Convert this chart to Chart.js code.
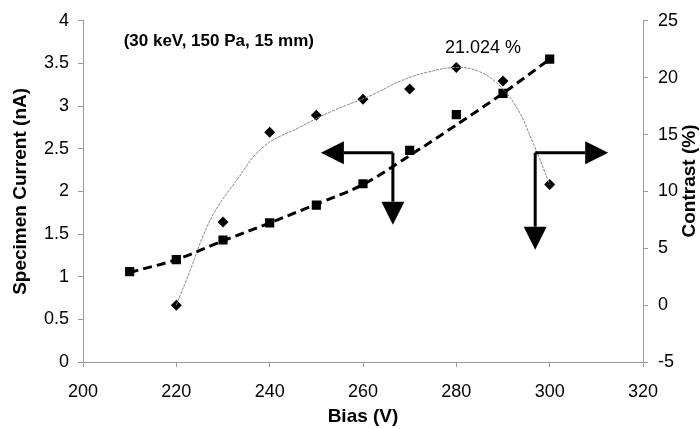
<!DOCTYPE html>
<html>
<head>
<meta charset="utf-8">
<script src="https://cdn.jsdelivr.net/npm/chart.js@4"></script>
<style>
  html, body { margin: 0; padding: 0; background: #fff; }
  #wrap { width: 700px; height: 429px; }
</style>
</head>
<body>
<div id="wrap"><canvas id="chart" width="700" height="429"></canvas></div>
<script>
const FONT = "'Liberation Sans', Arial, sans-serif";

// measured points
const biasCurrent = [210, 220, 230, 240, 250, 260, 270, 280, 290, 300];
const currentNA = [1.06, 1.2, 1.43, 1.63, 1.84, 2.09, 2.48, 2.9, 3.15, 3.55];
const biasContrast = [220, 230, 240, 250, 260, 270, 280, 290, 300];
const contrastPct = [0, 7.3, 15.2, 16.7, 18.1, 19.0, 20.9, 19.7, 10.6];

// fitted curves
const currentFit = [1.05, 1.2, 1.42, 1.63, 1.85, 2.08, 2.42, 2.78, 3.15, 3.55];
const contrastFitBias = [220, 222.9, 225.8, 228.5, 232.6, 238.6, 246.5,
  253.6, 261.5, 268, 274, 280, 284.5, 288.6, 292.9, 296.5, 300];
const contrastFit = [0, 2.98, 6.15, 8.4, 10.8, 13.9, 15.66,
  17.1, 18.4, 19.7, 20.5, 20.9, 20.6, 19.55, 17.4, 14.2, 10.6];

const xTicks = [200, 220, 240, 260, 280, 300, 320];
const currentTicks = [0, 0.5, 1, 1.5, 2, 2.5, 3, 3.5, 4];
const contrastTicks = [-5, 0, 5, 10, 15, 20, 25];

const pairs = (xs, ys) => xs.map((x, i) => ({ x: x, y: ys[i] }));
const setTicks = (list) => (scale) => { scale.ticks = list.map(v => ({ value: v })); };

const annotations = {
  id: "annotations",
  afterDatasetsDraw(chart) {
    const { ctx, scales } = chart;
    const x = scales.x, y = scales.y;
    ctx.save();
    ctx.fillStyle = "#000";
    ctx.strokeStyle = "#000";
    ctx.textAlign = "center";
    ctx.textBaseline = "middle";

    ctx.font = "bold 17px " + FONT;
    ctx.fillText("(30 keV, 150 Pa, 15 mm)", x.getPixelForValue(229.1), y.getPixelForValue(3.765));
    ctx.font = "18px " + FONT;
    ctx.fillText("21.024 %", x.getPixelForValue(285.7), y.getPixelForValue(3.675));

    function arrow(cx, cy, dx, dy, len) {
      const tx = cx + dx * len, ty = cy + dy * len;
      const head = 23, half = 11.5;
      const bx = tx - dx * head, by = ty - dy * head;
      ctx.lineWidth = 3;
      ctx.beginPath();
      ctx.moveTo(cx, cy);
      ctx.lineTo(bx, by);
      ctx.stroke();
      ctx.beginPath();
      ctx.moveTo(tx, ty);
      ctx.lineTo(bx - dy * half, by + dx * half);
      ctx.lineTo(bx + dy * half, by - dx * half);
      ctx.closePath();
      ctx.fill();
    }
    const c1x = x.getPixelForValue(266.4), c1y = y.getPixelForValue(2.454);
    arrow(c1x, c1y, -1, 0, 72);
    arrow(c1x, c1y, 0, 1, 72);
    const c2x = x.getPixelForValue(296.9), c2y = y.getPixelForValue(2.454);
    arrow(c2x, c2y, 1, 0, 73);
    arrow(c2x, c2y, 0, 1, 97);

    // right axis title reads bottom to top
    ctx.font = "bold 19px " + FONT;
    ctx.translate(690, 181);
    ctx.rotate(-Math.PI / 2);
    ctx.fillText("Contrast (%)", 0, 0);
    ctx.restore();
  }
};

new Chart(document.getElementById("chart"), {
  type: "scatter",
  data: {
    datasets: [
      {
        label: "Current fit",
        data: pairs(biasCurrent, currentFit),
        yAxisID: "y",
        showLine: true,
        borderColor: "#000",
        borderWidth: 3,
        borderDash: [9, 5],
        pointRadius: 0,
        tension: 0.3,
      },
      {
        label: "Contrast fit",
        data: pairs(contrastFitBias, contrastFit),
        yAxisID: "y1",
        showLine: true,
        borderColor: "#888",
        borderWidth: 1,
        borderDash: [3, 1],
        pointRadius: 0,
        tension: 0.4,
      },
      {
        label: "Specimen current",
        data: pairs(biasCurrent, currentNA),
        yAxisID: "y",
        pointStyle: "rect",
        pointRadius: 6.5,
        backgroundColor: "#000",
        borderColor: "#000",
        borderWidth: 0,
      },
      {
        label: "Contrast",
        data: pairs(biasContrast, contrastPct),
        yAxisID: "y1",
        pointStyle: "rectRot",
        pointRadius: 5.5,
        backgroundColor: "#000",
        borderColor: "#000",
        borderWidth: 0,
      },
    ],
  },
  options: {
    responsive: false,
    animation: false,
    layout: { padding: { top: 15, left: 0, right: 0, bottom: 0 } },
    plugins: {
      legend: { display: false },
      tooltip: { enabled: false },
    },
    scales: {
      x: {
        type: "linear",
        min: 200,
        max: 320,
        afterBuildTicks: setTicks(xTicks),
        afterFit: (s) => { s.height = 67; },
        border: { display: true, color: "#999", width: 1 },
        grid: { drawOnChartArea: false, drawTicks: true, tickLength: 5, color: "#999" },
        ticks: { color: "#000", padding: 14, font: { family: FONT, size: 18 } },
        title: {
          display: true,
          text: "Bias (V)",
          color: "#000",
          padding: { top: 0, bottom: 1 },
          font: { family: FONT, size: 19, weight: "bold" },
        },
      },
      y: {
        position: "left",
        min: 0,
        max: 4,
        afterBuildTicks: setTicks(currentTicks),
        afterFit: (s) => { s.width = 83; },
        border: { display: true, color: "#999", width: 1 },
        grid: { drawOnChartArea: false, drawTicks: true, tickLength: 5, color: "#999" },
        ticks: { color: "#000", padding: 9, font: { family: FONT, size: 18 }, callback: (v) => String(v) },
        title: {
          display: true,
          text: "Specimen Current (nA)",
          color: "#000",
          padding: { top: 9, bottom: 0 },
          font: { family: FONT, size: 19, weight: "bold" },
        },
      },
      y1: {
        position: "right",
        min: -5,
        max: 25,
        afterBuildTicks: setTicks(contrastTicks),
        afterFit: (s) => { s.width = 57; },
        border: { display: true, color: "#999", width: 1 },
        grid: { drawOnChartArea: false, drawTicks: true, tickLength: 5, color: "#999" },
        ticks: { color: "#000", padding: 10, font: { family: FONT, size: 18 }, callback: (v) => String(v) },
      },
    },
  },
  plugins: [annotations],
});
</script>
</body>
</html>
